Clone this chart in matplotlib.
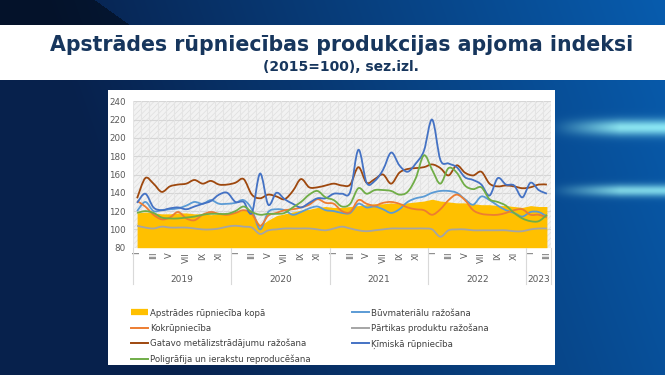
import numpy as np
import matplotlib
matplotlib.use("Agg")
import matplotlib.pyplot as plt
from matplotlib.path import Path
from matplotlib.patches import PathPatch, Rectangle
from matplotlib.lines import Line2D

# monthly data, I.2019 - III.2023 (2015=100)
years = ["2019", "2020", "2021", "2022", "2023"]
months_in_year = [12, 12, 12, 12, 3]
month_labels = ["I", "", "III", "", "V", "", "VII", "", "IX", "", "XI", ""]

kopa = [118, 119, 118, 117, 117, 118, 118, 117, 117, 116, 117, 118,
        119, 121, 119, 104, 110, 115, 117, 119, 121, 122, 124, 125,
        124, 124, 125, 126, 127, 128, 128, 129, 128, 129, 130, 131,
        133, 131, 130, 129, 129, 128, 127, 127, 126, 126, 125, 124,
        126, 125, 125]
buvmat = [120, 130, 120, 121, 122, 123, 126, 130, 128, 132, 128, 128,
          129, 132, 122, 100, 119, 122, 121, 116, 119, 123, 125, 121,
          120, 118, 118, 128, 124, 125, 122, 118, 122, 130, 134, 136,
          140, 142, 142, 140, 133, 127, 136, 132, 126, 121, 118, 114,
          119, 119, 114]
koks = [131, 125, 116, 111, 113, 119, 112, 110, 116, 119, 117, 116,
        118, 121, 117, 104, 115, 118, 121, 122, 124, 127, 133, 129,
        128, 120, 119, 132, 128, 126, 129, 130, 128, 124, 122, 121,
        116, 122, 132, 138, 132, 121, 117, 116, 116, 118, 121, 122,
        116, 116, 113]
partika = [104, 102, 101, 103, 102, 102, 102, 101, 100, 100, 101, 103,
           104, 103, 102, 95, 99, 100, 101, 101, 101, 101, 100, 99,
           101, 103, 101, 99, 98, 99, 100, 101, 101, 101, 101, 101,
           100, 92, 99, 100, 100, 99, 99, 99, 99, 99, 98, 98,
           100, 101, 101]
metali = [134, 156, 150, 141, 147, 149, 150, 154, 150, 153, 149, 149,
          151, 155, 138, 134, 138, 136, 133, 142, 155, 146, 146, 148,
          150, 148, 149, 168, 151, 155, 160, 150, 162, 166, 167, 168,
          171, 167, 159, 170, 162, 159, 163, 150, 147, 148, 147, 145,
          146, 149, 149]
kimija = [129, 139, 124, 121, 123, 124, 122, 125, 128, 131, 138, 140,
          130, 130, 118, 161, 127, 140, 133, 128, 124, 129, 134, 134,
          139, 139, 141, 187, 151, 153, 165, 184, 170, 163, 172, 186,
          220, 176, 172, 168, 157, 154, 149, 137, 156, 149, 148, 135,
          151, 143, 139]
poligr = [118, 120, 118, 113, 112, 112, 113, 114, 116, 117, 117, 117,
          120, 125, 119, 116, 117, 117, 118, 124, 130, 138, 142, 135,
          132, 125, 128, 145, 139, 143, 143, 142, 138, 141, 156, 181,
          165, 150, 167, 162, 148, 144, 146, 133, 130, 126, 118, 112,
          109, 109, 116]

lines = [
    ("Būvmateriālu ražošana", buvmat, "#5B9BD5"),
    ("Kokrūpniecība", koks, "#ED7D31"),
    ("Pārtikas produktu ražošana", partika, "#A5A5A5"),
    ("Gatavo metālizstrādājumu ražošana", metali, "#9E480E"),
    ("Ķīmiskā rūpniecība", kimija, "#4472C4"),
    ("Poligrāfija un ierakstu reproducēšana", poligr, "#70AD47"),
]


def smooth_path(x, y):
    # Excel-like smoothed line: cubic bezier through every data point
    p = np.column_stack([x, y]).astype(float)
    n = len(p)
    verts, codes = [p[0]], [Path.MOVETO]
    for k in range(n - 1):
        p0 = p[k - 1] if k > 0 else p[k]
        p3 = p[k + 2] if k + 2 < n else p[k + 1]
        verts += [p[k] + (p[k + 1] - p0) / 6, p[k + 1] - (p3 - p[k]) / 6, p[k + 1]]
        codes += [Path.CURVE4] * 3
    return Path(verts, codes)


W, H = 665, 375
fig = plt.figure(figsize=(W / 100, H / 100), dpi=100)

# slide background
bg = fig.add_axes([0, 0, 1, 1])
xx, yy = np.meshgrid(np.arange(W), np.arange(H))
t = np.clip((xx - 0.35 * yy - 40) / 620, 0, 1)
dark = np.array([0.03, 0.13, 0.30])
light = np.array([0.03, 0.36, 0.68])
img = dark * (1 - t[..., None]) + light * t[..., None]
wedge = (yy < 26) & (xx < 95 + 1.4 * yy)
img[wedge] = img[wedge] * 0.55
glow = (np.exp(-((yy - 127) / 8.0) ** 2) + 0.9 * np.exp(-((yy - 190) / 6.0) ** 2))
glow = glow * np.clip((xx - 550) / 70, 0, 1)
img = img + glow[..., None] * np.array([0.5, 0.55, 0.3])
bg.imshow(np.clip(img, 0, 1), extent=[0, W, H, 0], aspect="auto")
bg.set_xlim(0, W)
bg.set_ylim(H, 0)
bg.axis("off")

bg.add_patch(Rectangle((0, 25), W, 55, facecolor="white", edgecolor="none"))
bg.add_patch(Rectangle((108, 90), 447, 275, facecolor="white", edgecolor="none"))

fig.text(0.514, 1 - 45 / H, "Apstrādes rūpniecības produkcijas apjoma indeksi",
         ha="center", va="center", fontsize=14.8, fontweight="bold", color="#17365D")
fig.text(0.513, 1 - 67 / H, "(2015=100), sez.izl.",
         ha="center", va="center", fontsize=10, fontweight="bold", color="#17365D")

# chart
plt.rcParams["hatch.linewidth"] = 0.5
ax = fig.add_axes([133 / W, 1 - 247.7 / H, 418 / W, 146.4 / H])
n = len(kopa)
x = np.arange(n)
ax.set_xlim(-0.5, n - 0.5)
ax.set_ylim(80, 240)
ax.add_patch(Rectangle((-0.5, 80), n, 160, facecolor="#f2f2f2", edgecolor="#dedede",
                       hatch="//////", lw=0, zorder=0))
for v in range(80, 241, 20):
    ax.axhline(v, color="#d6d6d6", lw=0.8, zorder=1)
for b in np.arange(-0.5, n, 1):
    ax.axvline(b, color="#e4e4e4", lw=0.8, zorder=1)

ax.fill_between(x, 80, kopa, color="#FFC000", lw=0, zorder=2)
for name, vals, col in lines:
    ax.add_patch(PathPatch(smooth_path(x, vals), facecolor="none", edgecolor=col,
                           lw=1.3, zorder=3))

for s in ax.spines.values():
    s.set_visible(False)
ax.set_yticks(range(80, 241, 20))
ax.tick_params(axis="y", length=0, pad=5, labelsize=6.3, labelcolor="#595959")

ticks, labs = [], []
pos = 0
for yr, m in zip(years, months_in_year):
    for k in range(m):
        if month_labels[k]:
            ticks.append(pos + k)
            labs.append(month_labels[k])
    pos += m
ax.set_xticks(ticks)
ax.set_xticklabels(labs, rotation=90, fontsize=6, color="#595959")
ax.tick_params(axis="x", length=0, pad=3)

pos = 0
seps = [-0.5]
for yr, m in zip(years, months_in_year):
    ax.text(pos - 0.5 + m / 2, -0.215, yr, transform=ax.get_xaxis_transform(),
            ha="center", va="center", fontsize=6.5, color="#595959")
    pos += m
    seps.append(pos - 0.5)
for s in seps:
    ax.plot([s, s], [0, -0.25], transform=ax.get_xaxis_transform(),
            color="#d9d9d9", lw=0.8, clip_on=False)

# legend
h1 = [Line2D([], [], color="#FFC000", lw=4.5, solid_capstyle="butt"),
      Line2D([], [], color="#ED7D31", lw=1.4),
      Line2D([], [], color="#9E480E", lw=1.4),
      Line2D([], [], color="#70AD47", lw=1.4)]
l1 = ["Apstrādes rūpniecība kopā", "Kokrūpniecība",
      "Gatavo metālizstrādājumu ražošana", "Poligrāfija un ierakstu reproducēšana"]
h2 = [Line2D([], [], color="#5B9BD5", lw=1.4),
      Line2D([], [], color="#A5A5A5", lw=1.4),
      Line2D([], [], color="#4472C4", lw=1.4)]
l2 = ["Būvmateriālu ražošana", "Pārtikas produktu ražošana", "Ķīmiskā rūpniecība"]
kw = dict(loc="upper left", frameon=False, fontsize=6.2, handlelength=2.0,
          handletextpad=0.25, labelspacing=0.72, borderpad=0, borderaxespad=0,
          labelcolor="#404040")
fig.legend(h1, l1, bbox_to_anchor=(131 / W, 1 - 308.5 / H), **kw)
fig.legend(h2, l2, bbox_to_anchor=(352 / W, 1 - 308.5 / H), **kw)

fig.savefig("out.png", dpi=100)
